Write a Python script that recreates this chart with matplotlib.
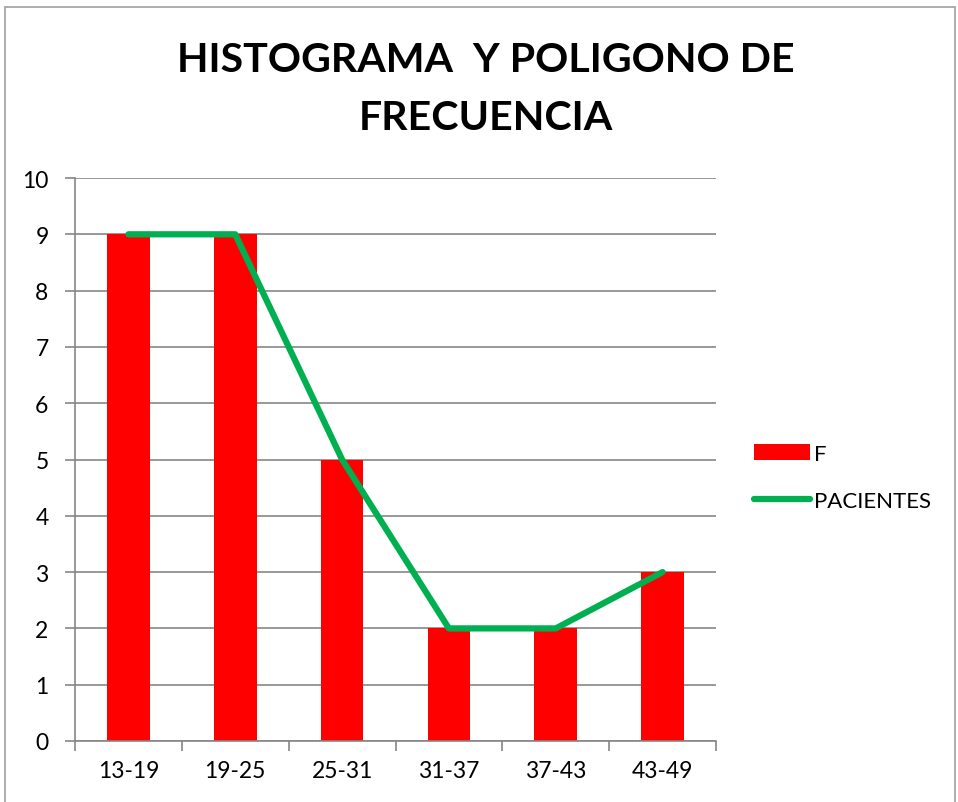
import matplotlib
matplotlib.use("Agg")
import matplotlib.pyplot as plt
from matplotlib.patches import Rectangle
from matplotlib.lines import Line2D
from matplotlib.patches import Patch
import numpy as np

# ── Data ──────────────────────────────────────────────
categories = ["13-19", "19-25", "25-31", "31-37", "37-43", "43-49"]
freq = [9, 9, 5, 2, 2, 3]        # F (bars)
pacientes = [9, 9, 5, 2, 2, 3]   # PACIENTES (line)

RED = "#FF0000"
GREEN = "#00B050"
GRID = "#868686"

plt.rcParams["font.family"] = ["Lato", "DejaVu Sans"]

fig = plt.figure(figsize=(9.58, 8.03), dpi=100)
ax = fig.add_axes([75/958, 1-742/803, 641/958, 563/803])

x = np.arange(len(categories))
ax.bar(x, freq, width=0.4, color=RED, zorder=2)
ax.plot(x, pacientes, color=GREEN, linewidth=4.5, solid_capstyle="round",
        solid_joinstyle="round", zorder=3)

ax.set_xlim(-0.5, len(categories)-0.5)
ax.set_ylim(0, 10)
ax.set_yticks(range(0, 11))
ax.yaxis.grid(True, color=GRID, linewidth=1.2, zorder=0)
ax.set_axisbelow(True)

ax.set_xticks(x)
ax.set_xticklabels(categories, fontsize=16.5)
ax.set_xticks(np.arange(-0.5, len(categories)), minor=True)
ax.tick_params(axis="x", which="major", length=0, pad=14)
ax.tick_params(axis="x", which="minor", length=7, color=GRID, width=1.2)
ax.tick_params(axis="y", length=7, color=GRID, width=1.2, labelsize=16.5, pad=12)

for s in ["top", "right"]:
    ax.spines[s].set_visible(False)
for s in ["left", "bottom"]:
    ax.spines[s].set_color(GRID)
    ax.spines[s].set_linewidth(1.2)

fig.text(486/958, 1-61/803, "HISTOGRAMA  Y POLIGONO DE", ha="center", va="center",
         fontsize=29.6, fontweight="bold")
fig.text(486/958, 1-118/803, "FRECUENCIA", ha="center", va="center",
         fontsize=29.6, fontweight="bold")

handles = [Patch(facecolor=RED, label="F"),
           Line2D([0], [0], color=GREEN, linewidth=4.5, solid_capstyle="round", label="PACIENTES")]
fig.legend(handles=handles, loc="upper left", bbox_to_anchor=(734/958, 1-425/803),
           frameon=False, fontsize=16, handlelength=2.5, handleheight=0.7,
           labelspacing=1.2, handletextpad=0.2)

# chart outer border
fig.add_artist(Rectangle((5/958, -0.05), 950/958, 1.05-8/803, transform=fig.transFigure,
                         fill=False, edgecolor="#A0A0A0", linewidth=1.2))

fig.savefig("out.png", dpi=100)
